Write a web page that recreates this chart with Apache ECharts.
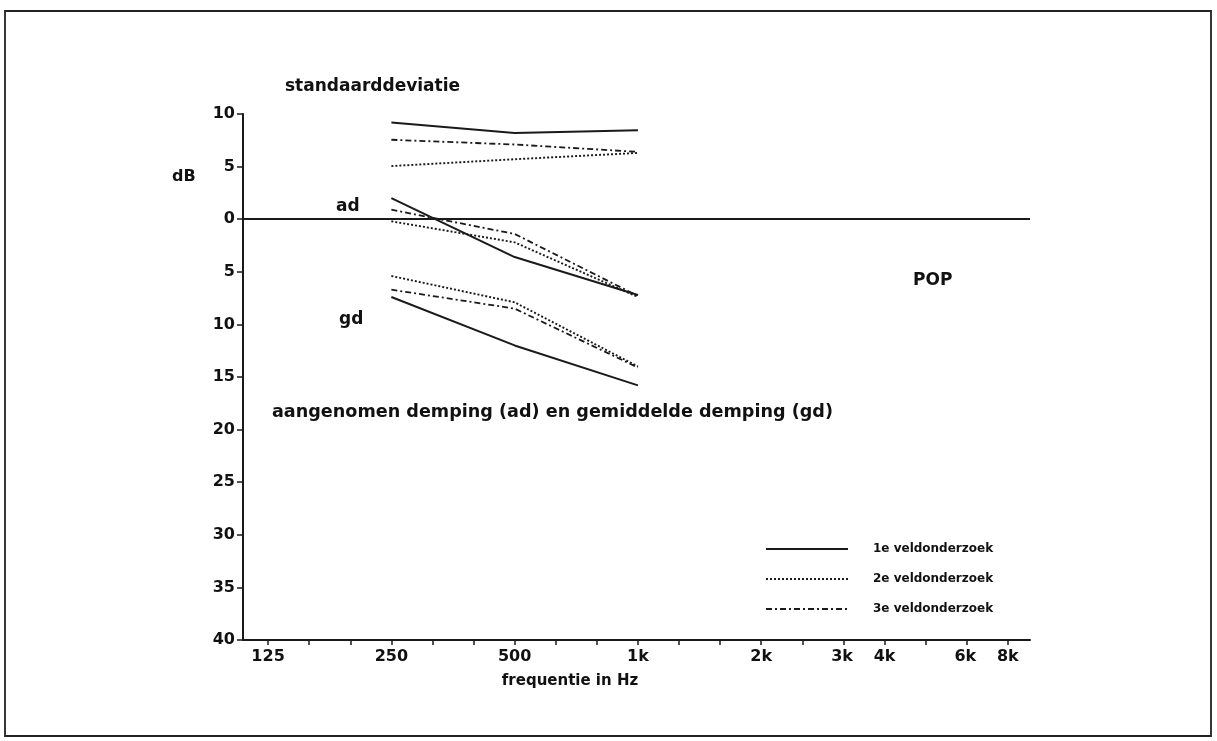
<!DOCTYPE html>
<html>
<head>
<meta charset="utf-8">
<script src="https://cdn.jsdelivr.net/npm/echarts@6/dist/echarts.min.js"></script>
<style>
html,body{margin:0;padding:0;background:#fff;}
#c{width:1217px;height:741px;}
</style>
</head>
<body>
<div id="c"></div>
<script>
// ---- data ----
const freqs = [250, 500, 1000];                       // Hz, measured points
const tickLabelFreqs = [125, 250, 500, 1000, 2000, 3150, 4000, 6300, 8000];
const tickLabelTexts = ['125', '250', '500', '1k', '2k', '3k', '4k', '6k', '8k'];
const surveyNames = ['1e veldonderzoek', '2e veldonderzoek', '3e veldonderzoek'];
// standaarddeviatie (dB, drawn above 0)
const std1 = [9.2, 8.2, 8.45];
const std2 = [5.05, 5.7, 6.3];
const std3 = [7.55, 7.1, 6.4];
// aangenomen demping (dB, drawn below 0)
const ad1 = [-2.0, 3.6, 7.2];
const ad2 = [0.2, 2.2, 7.4];
const ad3 = [-0.9, 1.4, 7.3];
// gemiddelde demping (dB, drawn below 0)
const gd1 = [7.4, 12.0, 15.8];
const gd2 = [5.4, 7.9, 14.0];
const gd3 = [6.7, 8.5, 14.1];

// third-octave index relative to 125 Hz
const toIdx = f => Math.round(Math.log2(f / 125) * 3 * 1000) / 1000;
const pts = (vals, sign) => freqs.map((f, i) => [toIdx(f), sign * vals[i]]);

const styles = [
  {type: 'solid', width: 2},
  {type: [2, 2], width: 1.9},
  {type: [6, 3, 2, 3], width: 1.8}
];
const groups = [
  [std1, std2, std3, -1],
  [ad1, ad2, ad3, 1],
  [gd1, gd2, gd3, 1]
];
const series = [];
groups.forEach(g => {
  for (let k = 0; k < 3; k++) {
    series.push({
      name: surveyNames[k],
      type: 'line',
      data: pts(g[k], g[3]),
      symbol: 'none',
      silent: true,
      lineStyle: {color: '#1a1a1a', type: styles[k].type, width: styles[k].width},
      itemStyle: {color: '#1a1a1a'}
    });
  }
});
series[0].markLine = {
  silent: true, symbol: 'none', label: {show: false},
  lineStyle: {color: '#1a1a1a', type: 'solid', width: 2},
  data: [{yAxis: 0}]
};

const font = '"DejaVu Sans", "Liberation Sans", Arial, sans-serif';
const chart = echarts.init(document.getElementById('c'));
chart.setOption({
  animation: false,
  backgroundColor: '#fff',
  grid: {left: 243, right: 187, top: 114, bottom: 101},
  legend: {
    orient: 'vertical', left: 760, top: 538, itemWidth: 82, itemHeight: 12, itemGap: 18,
    data: surveyNames,
    itemStyle: {opacity: 0},
    textStyle: {fontFamily: font, fontWeight: 'bold', fontSize: 12, color: '#111', padding: [0, 0, 0, 20]}
  },
  xAxis: {
    type: 'value', min: -0.61, max: 18.54,
    axisLine: {onZero: false, lineStyle: {color: '#1a1a1a', width: 2}},
    axisTick: {show: true, length: 5, inside: false, customValues: Array.from({length: 19}, (_, i) => i),
      lineStyle: {color: '#1a1a1a', width: 1.5}},
    axisLabel: {customValues: tickLabelFreqs.map(toIdx), margin: 9,
      formatter: v => tickLabelTexts[tickLabelFreqs.map(toIdx).indexOf(Math.round(v * 1000) / 1000)] || '',
      fontFamily: font, fontWeight: 'bold', fontSize: 16, color: '#111'},
    splitLine: {show: false},
    name: 'frequentie in Hz', nameLocation: 'middle', nameGap: 34,
    nameTextStyle: {fontFamily: font, fontWeight: 'bold', fontSize: 15, color: '#111', padding: [0, 0, 0, -133]}
  },
  yAxis: {
    type: 'value', min: -10, max: 40, interval: 5, inverse: true,
    axisLine: {show: true, onZero: false, lineStyle: {color: '#1a1a1a', width: 2}},
    axisTick: {show: true, length: 6, lineStyle: {color: '#1a1a1a', width: 1.5}},
    axisLabel: {formatter: v => String(Math.abs(v)), margin: 8,
      fontFamily: font, fontWeight: 'bold', fontSize: 16, color: '#111'},
    splitLine: {show: false}
  },
  graphic: [
    {type: 'rect', shape: {x: 5, y: 11, width: 1206, height: 725},
      style: {fill: 'none', stroke: '#222', lineWidth: 1.8}, silent: true},
    {type: 'text', left: 285, top: 78, style: {text: 'standaarddeviatie', font: 'bold 17px ' + font, fill: '#111'}},
    {type: 'text', left: 172, top: 169, style: {text: 'dB', font: 'bold 16px ' + font, fill: '#111'}},
    {type: 'text', left: 336, top: 198, style: {text: 'ad', font: 'bold 17px ' + font, fill: '#111'}},
    {type: 'text', left: 339, top: 311, style: {text: 'gd', font: 'bold 17px ' + font, fill: '#111'}},
    {type: 'text', left: 913, top: 272, style: {text: 'POP', font: 'bold 17px ' + font, fill: '#111'}},
    {type: 'text', left: 272, top: 403, style: {text: 'aangenomen demping (ad) en gemiddelde demping (gd)', font: 'bold 17.6px ' + font, fill: '#111'}}
  ],
  series: series
});
</script>
</body>
</html>
